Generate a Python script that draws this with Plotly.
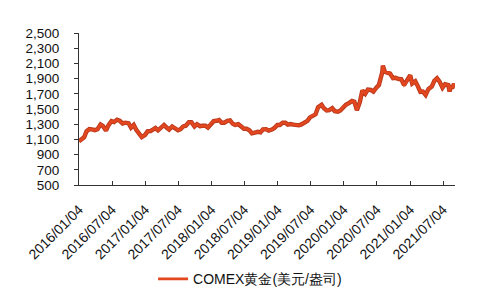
import plotly.graph_objects as go

dates = [
    "2016-01-04","2016-01-15","2016-02-01","2016-02-15","2016-03-01","2016-03-15","2016-04-01","2016-04-15",
    "2016-05-02","2016-05-16","2016-06-01","2016-06-15","2016-07-01","2016-07-15","2016-08-01","2016-08-15",
    "2016-09-01","2016-09-15","2016-10-03","2016-10-17","2016-11-01","2016-11-15","2016-12-01","2016-12-15",
    "2017-01-03","2017-01-16","2017-02-01","2017-02-15","2017-03-01","2017-03-15","2017-04-03","2017-04-17",
    "2017-05-01","2017-05-15","2017-06-01","2017-06-15","2017-07-03","2017-07-17","2017-08-01","2017-08-15",
    "2017-09-01","2017-09-15","2017-10-02","2017-10-16","2017-11-01","2017-11-15","2017-12-01","2017-12-15",
    "2018-01-02","2018-01-16","2018-02-01","2018-02-15","2018-03-01","2018-03-15","2018-04-02","2018-04-16",
    "2018-05-01","2018-05-15","2018-06-01","2018-06-15","2018-07-02","2018-07-16","2018-08-01","2018-08-15",
    "2018-09-04","2018-09-17","2018-10-01","2018-10-15","2018-11-01","2018-11-15","2018-12-03","2018-12-17",
    "2019-01-02","2019-01-15","2019-02-01","2019-02-15","2019-03-01","2019-03-15","2019-04-01","2019-04-15",
    "2019-05-01","2019-05-15","2019-06-03","2019-06-17","2019-07-01","2019-07-15","2019-08-01","2019-08-15",
    "2019-09-03","2019-09-16","2019-10-01","2019-10-15","2019-11-01","2019-11-15","2019-12-02","2019-12-16",
    "2020-01-02","2020-01-15","2020-02-03","2020-02-18","2020-03-02","2020-03-16","2020-04-01","2020-04-15",
    "2020-05-01","2020-05-15","2020-06-01","2020-06-15","2020-07-01","2020-07-15","2020-08-03","2020-08-06",
    "2020-08-17","2020-09-01","2020-09-15","2020-10-01","2020-10-15","2020-11-02","2020-11-16","2020-12-01",
    "2020-12-15","2021-01-04","2021-01-15","2021-02-01","2021-02-16","2021-03-01","2021-03-15","2021-03-30",
    "2021-04-15","2021-05-03","2021-05-17","2021-06-01","2021-06-15","2021-07-01","2021-07-15","2021-08-02",
    "2021-08-09","2021-08-16","2021-08-26","2021-09-03","2021-09-07",
]
prices = [
    1075,1090,1128,1208,1235,1232,1222,1234,
    1296,1274,1215,1288,1340,1328,1358,1345,
    1310,1320,1313,1255,1290,1225,1170,1130,
    1160,1205,1210,1235,1250,1220,1255,1290,
    1255,1230,1270,1255,1220,1235,1270,1280,
    1325,1325,1270,1300,1275,1280,1280,1255,
    1315,1340,1345,1355,1320,1320,1345,1350,
    1305,1290,1300,1280,1240,1240,1220,1180,
    1195,1200,1192,1232,1235,1215,1230,1250,
    1290,1290,1320,1320,1295,1302,1295,1290,
    1285,1297,1325,1345,1390,1415,1430,1525,
    1555,1510,1480,1485,1510,1470,1465,1480,
    1530,1555,1580,1605,1595,1485,1590,1745,
    1700,1755,1750,1730,1780,1815,1985,2070,
    1990,1975,1965,1905,1910,1895,1890,1815,
    1860,1945,1835,1865,1795,1725,1730,1685,
    1765,1795,1870,1905,1860,1780,1825,1815,
    1730,1790,1790,1830,1800,
]
tick_dates = ["2016-01-04","2016-07-04","2017-01-04","2017-07-04","2018-01-04","2018-07-04",
              "2019-01-04","2019-07-04","2020-01-04","2020-07-04","2021-01-04","2021-07-04"]
tick_labels = ["2016/01/04","2016/07/04","2017/01/04","2017/07/04","2018/01/04","2018/07/04",
               "2019/01/04","2019/07/04","2020/01/04","2020/07/04","2021/01/04","2021/07/04"]
series_name = "COMEX黄金(美元/盎司)"

fig = go.Figure()
fig.add_trace(go.Scatter(x=dates, y=prices, mode="lines", showlegend=False, hoverinfo="skip",
                         line=dict(color="#b8381c", width=4.4)))
fig.add_trace(go.Scatter(x=dates, y=prices, mode="lines", name=series_name,
                         line=dict(color="#e2471f", width=2.6)))

font_family = "Liberation Sans, Arial, sans-serif"
fig.update_layout(
    width=500, height=300,
    margin=dict(l=79, r=45, t=33, b=115, autoexpand=False),
    paper_bgcolor="white", plot_bgcolor="white",
    font=dict(family=font_family, size=13, color="#111"),
    showlegend=True,
    legend=dict(orientation="h", x=0.455, xanchor="center", y=-0.62, yanchor="middle",
                font=dict(size=14, color="#111")),
    xaxis=dict(type="date", range=["2016-01-04", "2021-09-08"], tickvals=tick_dates, ticktext=tick_labels,
               tickangle=-45, showgrid=False, zeroline=False, showline=True, linecolor="#333", linewidth=1,
               ticks="inside", ticklen=4, tickcolor="#333", tickfont=dict(size=14), ticklabelstandoff=10,
               automargin=False),
    yaxis=dict(range=[500, 2500], dtick=200, tick0=500, tickformat=",d", showgrid=False, zeroline=False,
               showline=True, linecolor="#333", linewidth=1, ticks="outside", ticklen=4, tickcolor="#333",
               tickfont=dict(size=13.5), ticklabelstandoff=12, automargin=False),
)
fig.write_html("out.html")
